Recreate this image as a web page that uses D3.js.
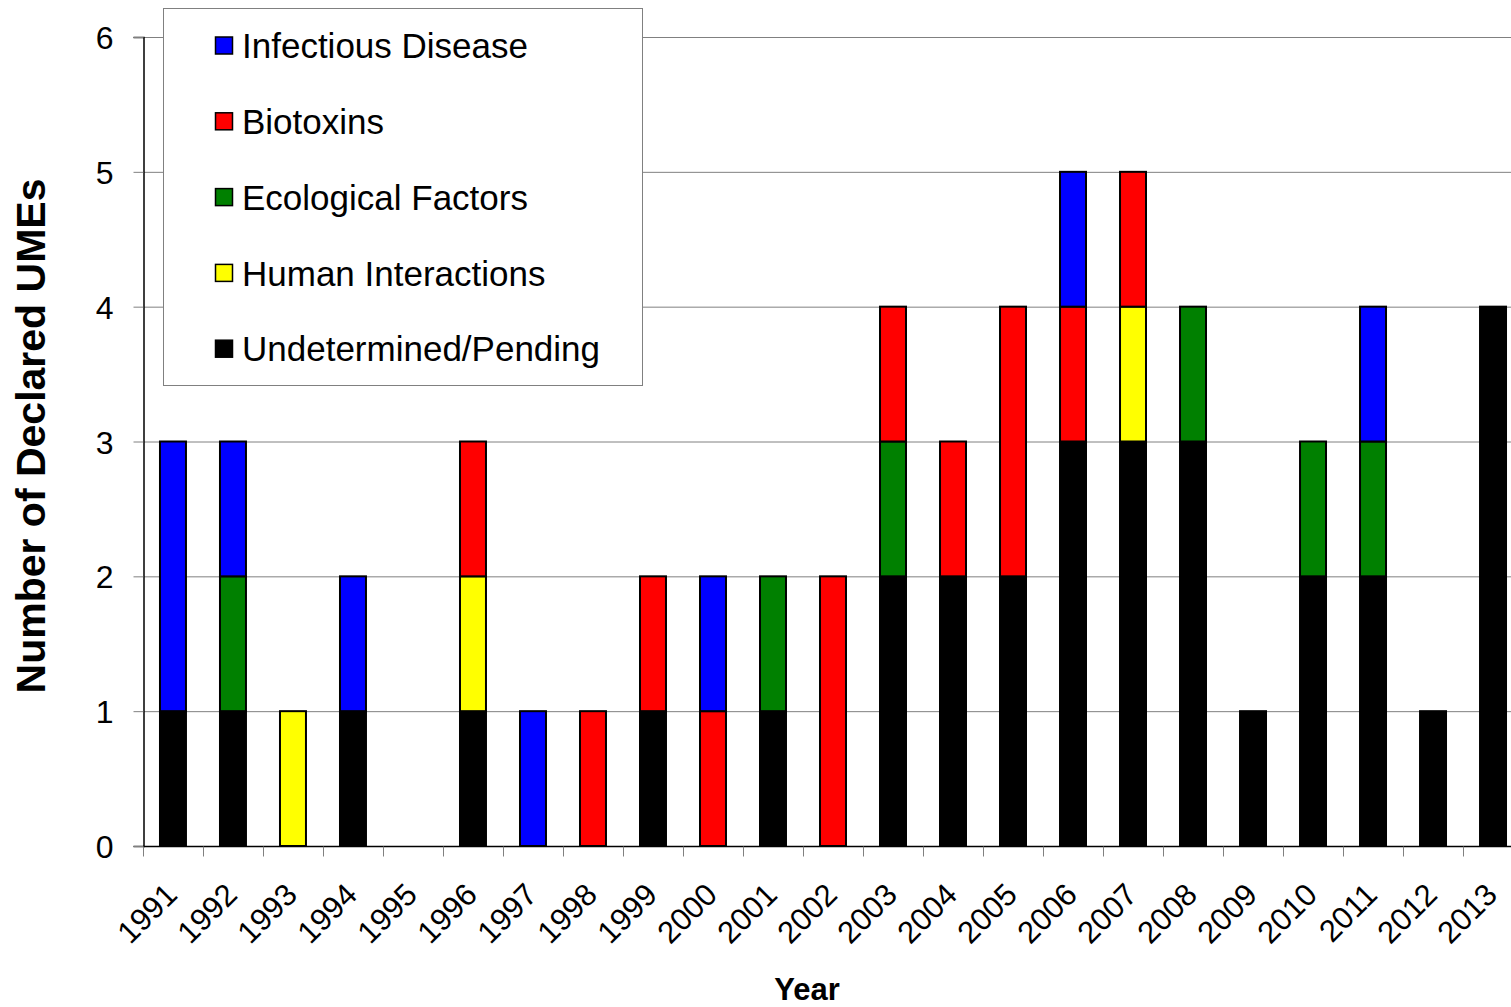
<!DOCTYPE html>
<html>
<head>
<meta charset="utf-8">
<script src="https://cdn.jsdelivr.net/npm/d3@7"></script>
<style>
  html, body { margin: 0; padding: 0; background: #fff; overflow: hidden; }
  svg { display: block; font-family: "Liberation Sans", Arial, sans-serif; }
</style>
</head>
<body>
<div id="chart"></div>
<script>
// categories and series (stack order bottom -> top)
const years = ['1991', '1992', '1993', '1994', '1995', '1996', '1997', '1998', '1999', '2000', '2001', '2002',
  '2003', '2004', '2005', '2006', '2007', '2008', '2009', '2010', '2011', '2012', '2013'];
const undetermined = [1, 1, 0, 1, 0, 1, 0, 0, 1, 0, 1, 0, 2, 2, 2, 3, 3, 3, 1, 2, 2, 1, 4];
const human        = [0, 0, 1, 0, 0, 1, 0, 0, 0, 0, 0, 0, 0, 0, 0, 0, 1, 0, 0, 0, 0, 0, 0];
const ecological   = [0, 1, 0, 0, 0, 0, 0, 0, 0, 0, 1, 0, 1, 0, 0, 0, 0, 1, 0, 1, 1, 0, 0];
const biotoxins    = [0, 0, 0, 0, 0, 1, 0, 1, 1, 1, 0, 2, 1, 1, 2, 1, 1, 0, 0, 0, 0, 0, 0];
const infectious   = [2, 1, 0, 1, 0, 0, 1, 0, 0, 1, 0, 0, 0, 0, 0, 1, 0, 0, 0, 0, 1, 0, 0];
const yTicks = [0, 1, 2, 3, 4, 5, 6];

const series = [
  { key: 'undetermined', label: 'Undetermined/Pending', color: '#000000', values: undetermined },
  { key: 'human', label: 'Human Interactions', color: '#ffff00', values: human },
  { key: 'ecological', label: 'Ecological Factors', color: '#008000', values: ecological },
  { key: 'biotoxins', label: 'Biotoxins', color: '#ff0000', values: biotoxins },
  { key: 'infectious', label: 'Infectious Disease', color: '#0000ff', values: infectious }
];
// legend lists top -> bottom
const legendOrder = ['infectious', 'biotoxins', 'ecological', 'human', 'undetermined'];

const width = 1511;
const height = 1007;
const plotLeft = 143;
const plotTop = 37;
const plotBottom = 846;
const band = 60;

const svg = d3.select('#chart').append('svg')
  .attr('width', width)
  .attr('height', height);

const x = d3.scaleBand()
  .domain(years)
  .range([plotLeft, plotLeft + band * years.length])
  .paddingInner(0.567)
  .paddingOuter(0.283);

const y = d3.scaleLinear()
  .domain([0, 6])
  .range([plotBottom, plotTop]);

// gridlines
svg.append('g')
  .selectAll('line')
  .data(yTicks.filter(d => d > 0))
  .enter()
  .append('line')
  .attr('x1', plotLeft)
  .attr('x2', width)
  .attr('y1', d => y(d) + 0.5)
  .attr('y2', d => y(d) + 0.5)
  .attr('stroke', '#808080')
  .attr('stroke-width', 1);

// stacked bars
const table = years.map((yr, i) => {
  const row = { year: yr };
  series.forEach(s => { row[s.key] = s.values[i]; });
  return row;
});
const stack = d3.stack().keys(series.map(s => s.key));
const layers = stack(table);

layers.forEach((layer, li) => {
  svg.append('g')
    .selectAll('rect')
    .data(layer.filter(d => d[1] - d[0] > 0))
    .enter()
    .append('rect')
    .attr('x', d => x(d.data.year))
    .attr('y', d => y(d[1]))
    .attr('width', x.bandwidth())
    .attr('height', d => y(d[0]) - y(d[1]))
    .attr('fill', series[li].color)
    .attr('stroke', '#000')
    .attr('stroke-width', 2);
});

// y axis
const yAxis = svg.append('g')
  .attr('transform', `translate(${plotLeft + 0.5},0)`)
  .call(d3.axisLeft(y).tickValues(yTicks).tickSize(10).tickPadding(20).tickFormat(d3.format('d')));
yAxis.select('.domain').attr('stroke', '#000').attr('stroke-width', 1.5);
yAxis.selectAll('.tick line').attr('stroke', '#808080');
yAxis.selectAll('text')
  .style('font-size', '32px')
  .attr('fill', '#000')
  .attr('dy', '0.36em');

// x axis
const xAxis = svg.append('g')
  .attr('transform', `translate(0,${plotBottom + 0.5})`);
xAxis.append('line')
  .attr('x1', plotLeft)
  .attr('x2', width)
  .attr('stroke', '#000')
  .attr('stroke-width', 1.5);
xAxis.selectAll('.xtick')
  .data(d3.range(years.length + 1))
  .enter()
  .append('line')
  .attr('x1', i => plotLeft + 0.5 + i * band)
  .attr('x2', i => plotLeft + 0.5 + i * band)
  .attr('y1', 0)
  .attr('y2', 10)
  .attr('stroke', '#808080');
xAxis.selectAll('text')
  .data(years)
  .enter()
  .append('text')
  .attr('text-anchor', 'end')
  .attr('transform', d => `translate(${x(d) + x.bandwidth() / 2 + 6},50) rotate(-45)`)
  .style('font-size', '31px')
  .attr('fill', '#000')
  .text(d => d);

// axis titles
svg.append('text')
  .attr('transform', `translate(45,436) rotate(-90)`)
  .attr('text-anchor', 'middle')
  .style('font-size', '41px')
  .style('font-weight', 'bold')
  .text('Number of Declared UMEs');

svg.append('text')
  .attr('x', 807)
  .attr('y', 1000)
  .attr('text-anchor', 'middle')
  .style('font-size', '31px')
  .style('font-weight', 'bold')
  .text('Year');

// legend
const legend = svg.append('g');
legend.append('rect')
  .attr('x', 163.5)
  .attr('y', 8.5)
  .attr('width', 479)
  .attr('height', 377)
  .attr('fill', '#fff')
  .attr('stroke', '#808080')
  .attr('stroke-width', 1);

const items = legend.selectAll('.item')
  .data(legendOrder.map(k => series.find(s => s.key === k)))
  .enter()
  .append('g')
  .attr('transform', (d, i) => `translate(215,${45.5 + i * 75.8})`);
items.append('rect')
  .attr('x', 0.5)
  .attr('y', -8.5)
  .attr('width', 17)
  .attr('height', 17)
  .attr('fill', d => d.color)
  .attr('stroke', '#000')
  .attr('stroke-width', 1.5);
items.append('text')
  .attr('x', 27)
  .attr('dy', '0.36em')
  .style('font-size', '35px')
  .text(d => d.label);
</script>
</body>
</html>
